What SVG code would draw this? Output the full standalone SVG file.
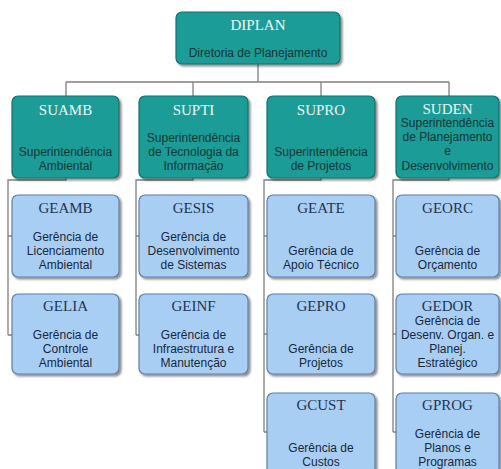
<svg xmlns="http://www.w3.org/2000/svg" width="501" height="469" viewBox="0 0 501 469">
  <defs>
    <filter id="shadow" x="-10%" y="-10%" width="130%" height="130%">
      <feGaussianBlur in="SourceAlpha" stdDeviation="1"/>
      <feOffset dx="2" dy="2" result="off"/>
      <feComponentTransfer><feFuncA type="linear" slope="0.45"/></feComponentTransfer>
      <feMerge><feMergeNode/><feMergeNode in="SourceGraphic"/></feMerge>
    </filter>
  </defs>
  <style>
    .sup { fill: #1a9c96; stroke: #12716d; stroke-width: 1.2; filter: url(#shadow); }
    .ger { fill: #a9cef4; stroke: #5d7fa3; stroke-width: 1.2; filter: url(#shadow); }
    .t  { font-family: "Liberation Serif", "Times New Roman", serif; font-size: 15px; text-anchor: middle; }
    .ts { fill: #eef7f6; }
    .tg { fill: #1f3552; }
    .s  { font-family: "Liberation Sans", Arial, sans-serif; font-size: 12px; text-anchor: middle; }
    .ss { fill: #0f3533; }
    .sg { fill: #17283a; }
    .conn { fill: none; stroke: #7f7f7f; stroke-width: 1.3; }
  </style>
  <rect width="501" height="469" fill="#ffffff"/>

  <g id="connectors">
    <path class="conn" d="M258,64 V82 M66,82 H449 M66,82 V96 M193,82 V96 M321,82 V96 M449,82 V96"/>
    <path class="conn" d="M66,178 V180 H8 V335 M8,236 H12 M8,335 H12"/>
    <path class="conn" d="M193,178 V180 H136 V335 M136,236 H139 M136,335 H139"/>
    <path class="conn" d="M321,178 V180 H264 V432 M264,236 H267 M264,334 H267 M264,432 H267"/>
    <path class="conn" d="M449,178 V180 H393 V432 M393,236 H396 M393,334 H396 M393,432 H396"/>
  </g>

  <g id="DIPLAN">
    <rect class="sup" x="176" y="12" width="164" height="52" rx="6"/>
    <text class="t ts" x="258" y="30">DIPLAN</text>
    <text class="s ss" x="258" y="57">Diretoria de Planejamento</text>
  </g>

  <g id="SUAMB">
    <rect class="sup" x="12" y="96" width="107" height="82" rx="6"/>
    <text class="t ts" x="65.5" y="115">SUAMB</text>
    <text class="s ss" x="65.5" y="156">Superintendência</text>
    <text class="s ss" x="65.5" y="170">Ambiental</text>
  </g>

  <g id="SUPTI">
    <rect class="sup" x="139" y="96" width="109" height="82" rx="6"/>
    <text class="t ts" x="193.5" y="115">SUPTI</text>
    <text class="s ss" x="193.5" y="142">Superintendência</text>
    <text class="s ss" x="193.5" y="156">de Tecnologia da</text>
    <text class="s ss" x="193.5" y="170">Informação</text>
  </g>

  <g id="SUPRO">
    <rect class="sup" x="267" y="96" width="108" height="82" rx="6"/>
    <text class="t ts" x="321" y="115">SUPRO</text>
    <text class="s ss" x="321" y="156">Superintendência</text>
    <text class="s ss" x="321" y="170">de Projetos</text>
  </g>

  <g id="SUDEN">
    <rect class="sup" x="396" y="96" width="103" height="82" rx="6"/>
    <text class="t ts" x="447.5" y="114">SUDEN</text>
    <text class="s ss" x="447.5" y="127">Superintendência</text>
    <text class="s ss" x="447.5" y="141">de Planejamento</text>
    <text class="s ss" x="447.5" y="155">e</text>
    <text class="s ss" x="447.5" y="170">Desenvolvimento</text>
  </g>

  <g id="GEAMB">
    <rect class="ger" x="12" y="195" width="107" height="82" rx="6"/>
    <text class="t tg" x="65.5" y="213">GEAMB</text>
    <text class="s sg" x="65.5" y="241">Gerência de</text>
    <text class="s sg" x="65.5" y="255">Licenciamento</text>
    <text class="s sg" x="65.5" y="269">Ambiental</text>
  </g>

  <g id="GELIA">
    <rect class="ger" x="12" y="294" width="107" height="80" rx="6"/>
    <text class="t tg" x="65.5" y="311">GELIA</text>
    <text class="s sg" x="65.5" y="339">Gerência de</text>
    <text class="s sg" x="65.5" y="353">Controle</text>
    <text class="s sg" x="65.5" y="367">Ambiental</text>
  </g>

  <g id="GESIS">
    <rect class="ger" x="139" y="195" width="109" height="82" rx="6"/>
    <text class="t tg" x="193.5" y="213">GESIS</text>
    <text class="s sg" x="193.5" y="241">Gerência de</text>
    <text class="s sg" x="193.5" y="255">Desenvolvimento</text>
    <text class="s sg" x="193.5" y="269">de Sistemas</text>
  </g>

  <g id="GEINF">
    <rect class="ger" x="139" y="294" width="109" height="80" rx="6"/>
    <text class="t tg" x="193.5" y="311">GEINF</text>
    <text class="s sg" x="193.5" y="339">Gerência de</text>
    <text class="s sg" x="193.5" y="353">Infraestrutura e</text>
    <text class="s sg" x="193.5" y="367">Manutenção</text>
  </g>

  <g id="GEATE">
    <rect class="ger" x="267" y="195" width="108" height="82" rx="6"/>
    <text class="t tg" x="321" y="213">GEATE</text>
    <text class="s sg" x="321" y="255">Gerência de</text>
    <text class="s sg" x="321" y="269">Apoio Técnico</text>
  </g>

  <g id="GEPRO">
    <rect class="ger" x="267" y="294" width="108" height="80" rx="6"/>
    <text class="t tg" x="321" y="311">GEPRO</text>
    <text class="s sg" x="321" y="353">Gerência de</text>
    <text class="s sg" x="321" y="367">Projetos</text>
  </g>

  <g id="GCUST">
    <rect class="ger" x="267" y="393" width="108" height="81" rx="6"/>
    <text class="t tg" x="321" y="410">GCUST</text>
    <text class="s sg" x="321" y="452">Gerência de</text>
    <text class="s sg" x="321" y="466">Custos</text>
  </g>

  <g id="GEORC">
    <rect class="ger" x="396" y="195" width="103" height="82" rx="6"/>
    <text class="t tg" x="447.5" y="213">GEORC</text>
    <text class="s sg" x="447.5" y="255">Gerência de</text>
    <text class="s sg" x="447.5" y="269">Orçamento</text>
  </g>

  <g id="GEDOR">
    <rect class="ger" x="396" y="294" width="103" height="80" rx="6"/>
    <text class="t tg" x="447.5" y="311">GEDOR</text>
    <text class="s sg" x="447.5" y="325">Gerência de</text>
    <text class="s sg" x="447.5" y="339">Desenv. Organ. e</text>
    <text class="s sg" x="447.5" y="353">Planej.</text>
    <text class="s sg" x="447.5" y="367">Estratégico</text>
  </g>

  <g id="GPROG">
    <rect class="ger" x="396" y="393" width="103" height="81" rx="6"/>
    <text class="t tg" x="447.5" y="410">GPROG</text>
    <text class="s sg" x="447.5" y="438">Gerência de</text>
    <text class="s sg" x="447.5" y="452">Planos e</text>
    <text class="s sg" x="447.5" y="466">Programas</text>
  </g>
</svg>
